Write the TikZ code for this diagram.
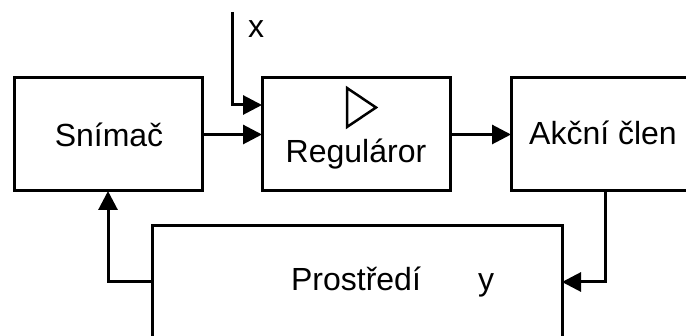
\documentclass[tikz,border=0pt]{standalone}
\usepackage{fontspec}
\setmainfont{Liberation Sans}
\usetikzlibrary{arrows.meta,calc}
\begin{document}
\begin{tikzpicture}[x=1pt,y=-1pt,
  box/.style={draw,line width=3pt,inner sep=0pt,outer sep=0pt,anchor=north west},
  lbl/.style={anchor=base,inner sep=0pt,font=\fontsize{32}{38}\selectfont},
  conn/.style={line width=3pt},
  arr/.style={conn,-{Triangle[length=19pt,width=19pt]}}]
\useasboundingbox (0,0) rectangle (686,336);
\clip (0,0) rectangle (686,336);
\node[box,minimum width=188pt,minimum height=113pt] (sn) at (14,78) {};
\node[box,minimum width=188pt,minimum height=113pt] (reg) at (262,78) {};
\node[box,minimum width=188pt,minimum height=113pt] (ak) at (511,78) {};
\node[box,minimum width=410pt,minimum height=124pt] (pr) at (152,226) {};
\node[lbl] (tsn) at (109,147) {Snímač};
\node[lbl] (treg) at (356,163) {Reguláror};
\node[lbl] (tak) at (603,145) {Akční člen};
\node[lbl] (tpr) at (356,291) {Prostředí};
\node[lbl] (ty) at (486,291) {y};
\node[lbl] (tx) at (256,38) {x};
\draw[line width=2.5pt,line join=miter] (347,88) -- (347,127) -- (376,107.5) -- cycle;
\coordinate (xin) at (232,12);
\draw[arr] (xin) |- (reg.west |- 0,105);
\draw[arr] (sn.east) -- (reg.west);
\draw[arr] (reg.east) -- (ak.west);
\draw[arr] (ak.south) |- (pr.east |- 0,282);
\draw[arr] (pr.west |- 0,282) -| (sn.south);
\end{tikzpicture}
\end{document}
